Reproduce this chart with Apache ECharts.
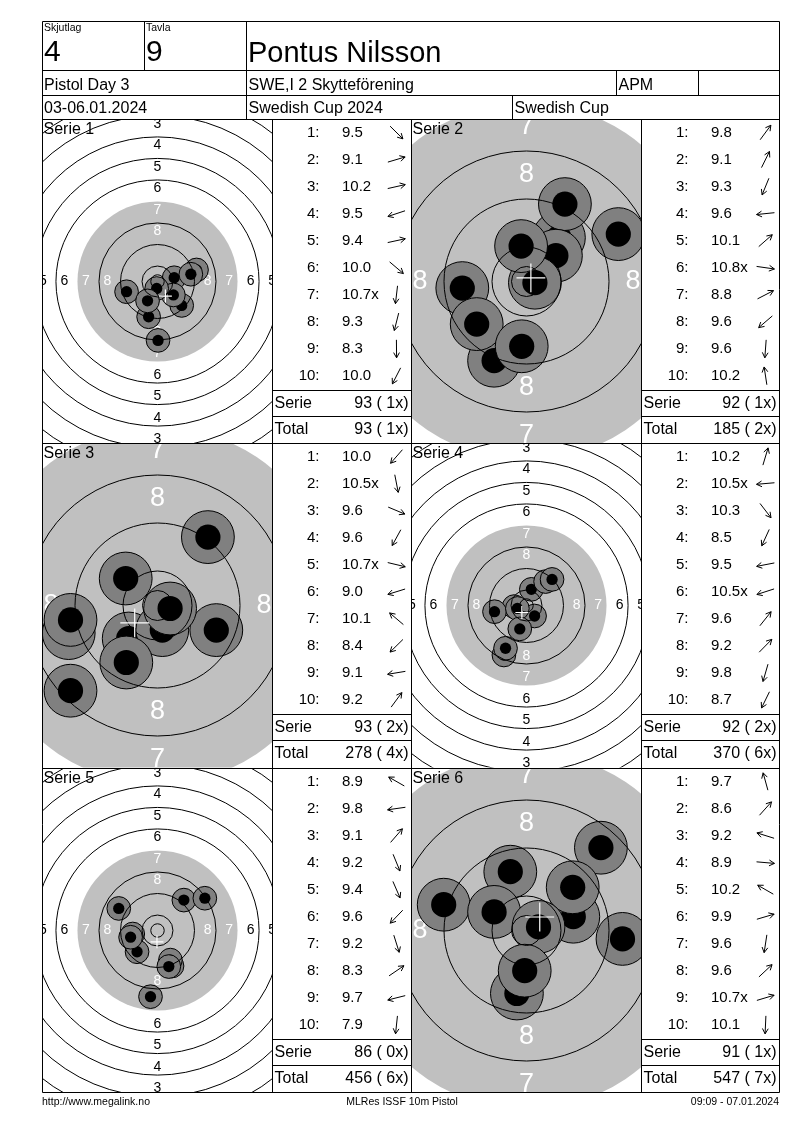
<!DOCTYPE html>
<html><head><meta charset="utf-8">
<script src="https://cdn.jsdelivr.net/npm/echarts@6/dist/echarts.min.js"></script>
<style>html,body{margin:0;padding:0;background:#fff}#c{width:800px;height:1130px}</style>
</head><body><div id="c"></div>
<script>
// ---------------- DATA ----------------
const headerShooterLabel = 'Skjutlag', headerShooterValue = '4';
const headerTargetLabel = 'Tavla', headerTargetValue = '9';
const shooterName = 'Pontus Nilsson';
const eventName = 'Pistol Day 3', clubName = 'SWE,I 2 Skytteförening', classCode = 'APM';
const eventDates = '03-06.01.2024', competitionName = 'Swedish Cup 2024', cupName = 'Swedish Cup';
const footerLeft = 'http://www.megalink.no', footerMid = 'MLRes ISSF 10m Pistol', footerRight = '09:09 - 07.01.2024';

const serieNames = ['Serie 1','Serie 2','Serie 3','Serie 4','Serie 5','Serie 6'];
const serieZoomed = [false, true, true, false, false, true];

const serie1Scores = ['9.5','9.1','10.2','9.5','9.4','10.0','10.7x','9.3','8.3','10.0'];
const serie1X = [9.0, 14.5, 6.2, -11.5, 12.4, 5.9, -0.3, -3.3, 0.2, -3.7];
const serie1Y = [-8.9, 4.3, 1.4, -3.8, 2.7, -5.0, -2.6, -13.1, -21.9, -7.2];

const serie2Scores = ['9.8','9.1','9.3','9.6','10.1','10.8x','8.8','9.6','9.6','10.2'];
const serie2X = [5.4, 6.4, -5.4, -10.7, 4.9, 1.4, 15.3, -8.3, -0.8, -0.9];
const serie2Y = [7.3, 12.9, -13.2, -1.1, 4.3, -0.2, 7.9, -7.1, -10.8, 5.9];

const serie3Scores = ['10.0','10.5x','9.6','9.6','10.7x','9.0','10.1','8.4','9.1','9.2'];
const serie3X = [-4.8, 0.8, 9.8, -5.2, 2.1, -14.8, -5.3, -14.5, -14.5, 8.4];
const serie3Y = [-5.5, -4.1, -4.1, -9.5, -0.5, -4.6, 4.5, -14.2, -2.4, 11.4];

const serie4Scores = ['10.2','10.5x','10.3','8.5','9.5','10.5x','9.6','9.2','9.8','8.7'];
const serie4X = [1.8, -4.6, 3.0, -8.4, -11.9, -3.4, 7.1, 9.5, -2.5, -7.8];
const serie4Y = [6.0, -0.4, -3.9, -18.4, -2.3, -1.1, 8.9, 9.7, -8.7, -15.9];

const serie5Scores = ['8.9','9.8','9.1','9.2','9.4','9.6','9.2','8.3','9.7','7.9'];
const serie5X = [-14.4, -9.2, 9.8, 5.4, 4.8, -7.6, 4.2, 17.6, -10.0, -2.6];
const serie5Y = [8.2, -1.3, 11.3, -13.2, -11.0, -7.9, -13.4, 12.0, -2.5, -24.6];

const serie6Scores = ['9.7','8.6','9.2','8.9','10.2','9.9','9.6','9.6','10.7x','10.1'];
const serie6X = [-2.7, 12.4, -13.8, 16.0, -5.4, 7.8, -1.6, 7.7, 2.0, -0.3];
const serie6Y = [9.8, 13.8, 4.3, -1.4, 3.1, 2.3, -10.5, 7.2, 0.6, -6.7];

const serieTotals = ['93 ( 1x)','92 ( 1x)','93 ( 2x)','92 ( 2x)','86 ( 0x)','91 ( 1x)'];
const runningTotals = ['93 ( 1x)','185 ( 2x)','278 ( 4x)','370 ( 6x)','456 ( 6x)','547 ( 7x)'];

const ringNumbers = [1,2,3,4,5,6,7,8,9,10];
const labelledRings = [1,2,3,4,5,6,7,8];

// ---------------- LAYOUT / STYLE ----------------
const FONT = '"Liberation Sans", Arial, sans-serif';
const ROW_TOP = [119.5, 443.5, 768.5];
const PANEL_H = 324;
const TARGET_LEFT = [42.5, 411.5];
const TARGET_W = 230;
const TABLE_LEFT = [272.5, 641.5];
const TABLE_RIGHT = [411.5, 779.5];
const SCALE_FULL = 2.69, SCALE_ZOOM = 6.0; // px per mm
const GRAY_R = 29.75, INNER_TEN = 2.5;
const SHOT_OUTER = 4.4, SHOT_INNER = 2.1, CROSS = 2.4;
const ringRadius = n => 5.75 + (10 - n) * 8;

const allX = [serie1X, serie2X, serie3X, serie4X, serie5X, serie6X];
const allY = [serie1Y, serie2Y, serie3Y, serie4Y, serie5Y, serie6Y];
const allScores = [serie1Scores, serie2Scores, serie3Scores, serie4Scores, serie5Scores, serie6Scores];

const grids = [], xAxes = [], yAxes = [], series = [], elements = [];

function line(x1, y1, x2, y2) {
  elements.push({type:'line', z:100, silent:true, shape:{x1, y1, x2, y2}, style:{stroke:'#000', lineWidth:1}});
}
function text(str, x, y, size, align, color) {
  elements.push({type:'text', x, y, z:100, silent:true, style:{text:str, fill:color || '#000',
    font: size + 'px ' + FONT, fontSize:size, fontFamily:FONT,
    align: align || 'left', textAlign: align || 'left', verticalAlign:'middle', textVerticalAlign:'middle'}});
}
function arrow(cx, cy, ang) {
  const L = 9, H = 6, c = Math.cos(ang), s = Math.sin(ang);
  const tip = [cx + L * c, cy - L * s], tail = [cx - L * c, cy + L * s];
  const a1 = ang + Math.PI * 0.84, a2 = ang - Math.PI * 0.84;
  elements.push({type:'polyline', z:100, silent:true, shape:{points:[tail, tip]}, style:{stroke:'#000', lineWidth:1, fill:null}});
  elements.push({type:'polyline', z:100, silent:true,
    shape:{points:[[tip[0] + H * Math.cos(a1), tip[1] - H * Math.sin(a1)], tip, [tip[0] + H * Math.cos(a2), tip[1] - H * Math.sin(a2)]]},
    style:{stroke:'#000', lineWidth:1, fill:null}});
}

for (let i = 0; i < 6; i++) {
  const row = Math.floor(i / 2), col = i % 2;
  const top = ROW_TOP[row], left = TARGET_LEFT[col];
  const zoomed = serieZoomed[i];
  const scale = zoomed ? SCALE_ZOOM : SCALE_FULL;
  const labelSize = zoomed ? 27 : 14;
  const labelShift = zoomed ? 0 : 0.9;
  grids.push({left, top, width:TARGET_W, height:PANEL_H, containLabel:false});
  xAxes.push({gridIndex:i, type:'value', min:-TARGET_W / 2 / scale, max:TARGET_W / 2 / scale, show:false});
  yAxes.push({gridIndex:i, type:'value', min:-PANEL_H / 2 / scale, max:PANEL_H / 2 / scale, show:false});
  const base = {type:'custom', xAxisIndex:i, yAxisIndex:i, clip:true, silent:true, animation:false};

  // gray aiming mark
  series.push(Object.assign({}, base, {z:1, data:[[0, 0]], renderItem:(p, api) => {
    const c = api.coord([0, 0]);
    return {type:'circle', shape:{cx:c[0], cy:c[1], r:api.size([GRAY_R, 0])[0]}, style:{fill:'#c0c0c0'}};
  }}));
  // ring numbers
  series.push(Object.assign({}, base, {z:2, data:labelledRings.map(n => [0, 0, n]), renderItem:(p, api) => {
    const n = api.value(2), r = ringRadius(n) - 4 + labelShift;
    const pts = [[0, r], [0, -r], [r, 0], [-r, 0]].map(q => api.coord(q));
    return {type:'group', children: pts.map(q => ({type:'text', x:q[0], y:q[1],
      style:{text:String(n), fill: n >= 7 ? '#ffffff' : '#000000', font: labelSize + 'px ' + FONT,
        fontSize:labelSize, fontFamily:FONT, align:'center', verticalAlign:'middle', textAlign:'center', textVerticalAlign:'middle'}}))};
  }}));
  // shots
  series.push(Object.assign({}, base, {z:3, data:allX[i].map((x, k) => [x, allY[i][k]]), renderItem:(p, api) => {
    const c = api.coord([api.value(0), api.value(1)]);
    return {type:'group', children:[
      {type:'circle', shape:{cx:c[0], cy:c[1], r:api.size([SHOT_OUTER, 0])[0]}, style:{fill:'#808080', stroke:'#000', lineWidth:1}},
      {type:'circle', shape:{cx:c[0], cy:c[1], r:api.size([SHOT_INNER, 0])[0]}, style:{fill:'#000'}}
    ]};
  }}));
  // ring lines (ring 7 edge is the gray border)
  const radii = ringNumbers.filter(n => n !== 7).map(ringRadius).concat([INNER_TEN]);
  series.push(Object.assign({}, base, {z:4, data:radii.map(r => [0, 0, r]), renderItem:(p, api) => {
    const c = api.coord([0, 0]);
    return {type:'circle', shape:{cx:c[0], cy:c[1], r:api.size([api.value(2), 0])[0]}, style:{fill:null, stroke:'#000', lineWidth:1}};
  }}));
  // mean point of impact crosshair
  const mx = allX[i].reduce((a, b) => a + b, 0) / allX[i].length;
  const my = allY[i].reduce((a, b) => a + b, 0) / allY[i].length;
  series.push(Object.assign({}, base, {z:5, data:[[mx, my]], renderItem:(p, api) => {
    const x = api.value(0), y = api.value(1);
    const a = api.coord([x - CROSS, y]), b = api.coord([x + CROSS, y]);
    const c = api.coord([x, y - CROSS]), d = api.coord([x, y + CROSS]);
    return {type:'group', children:[
      {type:'line', shape:{x1:a[0], y1:a[1], x2:b[0], y2:b[1]}, style:{stroke:'#fff', lineWidth:1.2}},
      {type:'line', shape:{x1:c[0], y1:c[1], x2:d[0], y2:d[1]}, style:{stroke:'#fff', lineWidth:1.2}}
    ]};
  }}));

  // panel label
  text(serieNames[i], left + 1, top + 10, 16);
  // table
  const tl = TABLE_LEFT[col], tr = TABLE_RIGHT[col];
  for (let k = 0; k < 10; k++) {
    const cy = top + 13 + k * 27.04;
    text((k + 1) + ':', tl + 47, cy, 15, 'right');
    text(allScores[i][k], tl + 69.5, cy, 15, 'left');
    arrow(tl + 124, cy, Math.atan2(allY[i][k], allX[i][k]));
  }
  line(tl, top + 271, tr, top + 271);
  line(tl, top + 297, tr, top + 297);
  text('Serie', tl + 2, top + 284, 16);
  text(serieTotals[i], tr - 3, top + 284, 16, 'right');
  text('Total', tl + 2, top + 310, 16);
  text(runningTotals[i], tr - 3, top + 310, 16, 'right');
}

// frame and header lines
elements.push({type:'rect', z:100, silent:true, shape:{x:42.5, y:21.5, width:737, height:1071}, style:{fill:null, stroke:'#000', lineWidth:1}});
line(42.5, 70.5, 779.5, 70.5);
line(42.5, 95.5, 779.5, 95.5);
line(42.5, 119.5, 779.5, 119.5);
line(144.5, 21.5, 144.5, 70.5);
line(246.5, 21.5, 246.5, 119.5);
line(616.5, 70.5, 616.5, 95.5);
line(698.5, 70.5, 698.5, 95.5);
line(512.5, 95.5, 512.5, 119.5);
line(42.5, 443.5, 779.5, 443.5);
line(42.5, 768.5, 779.5, 768.5);
line(272.5, 119.5, 272.5, 1092.5);
line(411.5, 119.5, 411.5, 1092.5);
line(641.5, 119.5, 641.5, 1092.5);

text(headerShooterLabel, 44, 28, 10.5);
text(headerShooterValue, 44, 53, 30);
text(headerTargetLabel, 146, 28, 10.5);
text(headerTargetValue, 146, 53, 30);
text(shooterName, 248, 53.5, 29);
text(eventName, 44, 85.5, 16);
text(clubName, 248.5, 85.5, 16);
text(classCode, 618.5, 85.5, 16);
text(eventDates, 44, 109, 16);
text(competitionName, 248.5, 109, 16);
text(cupName, 514.5, 109, 16);
text(footerLeft, 42, 1102, 10.5);
text(footerMid, 402, 1102, 10.5, 'center');
text(footerRight, 779, 1102, 10.5, 'right');

const chart = echarts.init(document.getElementById('c'), null, {renderer:'canvas'});
chart.setOption({animation:false, backgroundColor:'#fff', grid:grids, xAxis:xAxes, yAxis:yAxes, series, graphic:{elements}});
</script></body></html>
